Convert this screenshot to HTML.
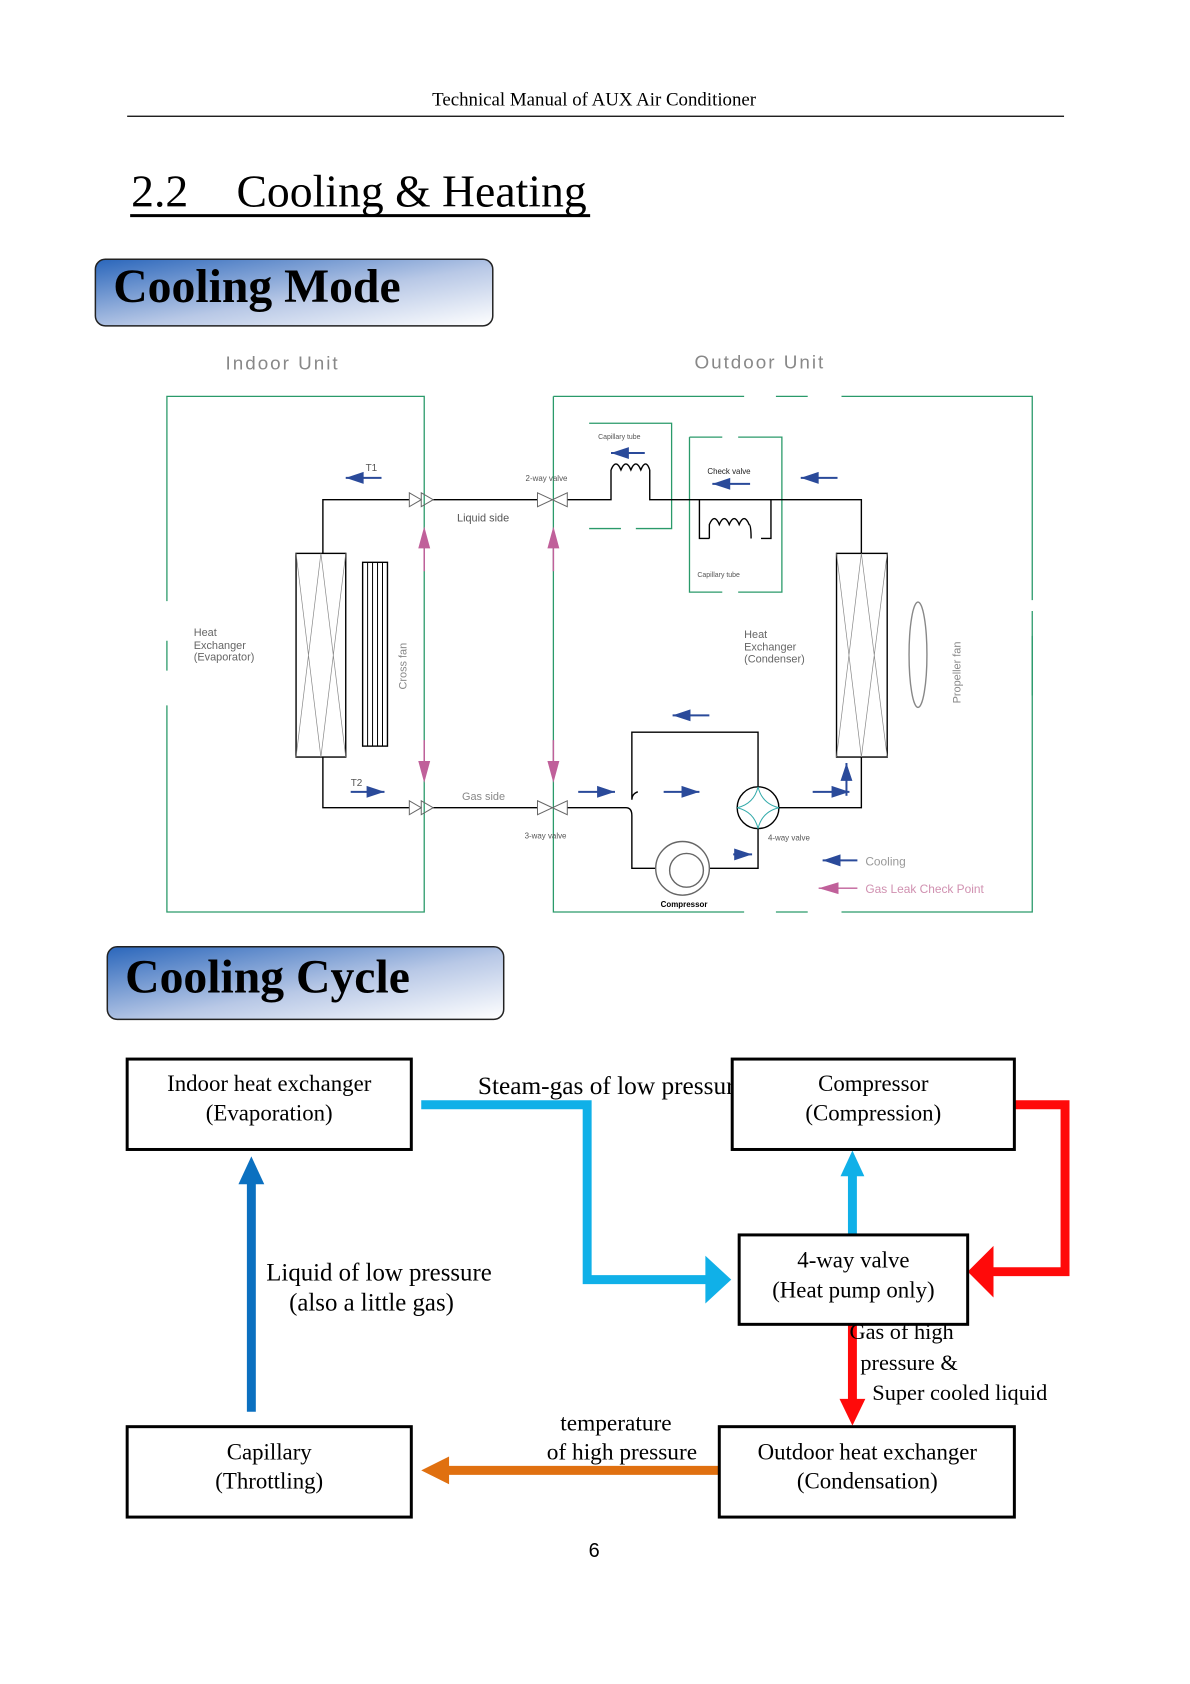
<!DOCTYPE html>
<html><head><meta charset="utf-8"><style>
html,body{margin:0;padding:0;background:#fff}
svg{display:block}
</style></head><body>
<svg width="1190" height="1684" viewBox="0 0 1190 1684" xmlns="http://www.w3.org/2000/svg" font-family="Liberation Serif, serif">
<defs>
<linearGradient id="g1" x1="0" y1="0" x2="1" y2="1">
<stop offset="0" stop-color="#2a66bb"/><stop offset="0.55" stop-color="#b8c8e6"/><stop offset="1" stop-color="#ffffff"/>
</linearGradient>
</defs>
<g transform="scale(0.9935)">
<!-- header -->
<text x="598" y="106" font-size="19" text-anchor="middle">Technical Manual of AUX Air Conditioner</text>
<line x1="128" y1="117" x2="1071" y2="117" stroke="#000" stroke-width="1.2"/>
<text y="208" font-size="46"><tspan x="132">2.2</tspan><tspan x="238">Cooling &amp; Heating</tspan></text>
<line x1="131" y1="217" x2="594" y2="217" stroke="#000" stroke-width="3"/>

<!-- Cooling Mode -->
<rect x="96" y="261" width="400" height="67" rx="10" fill="url(#g1)" stroke="#222" stroke-width="1.5"/>
<text x="114" y="304" font-size="48" font-weight="bold">Cooling Mode</text>

<g font-family="Liberation Sans, sans-serif" fill="#888">
<text x="227" y="372" font-size="19" letter-spacing="2">Indoor  Unit</text>
<text x="699" y="371" font-size="19" letter-spacing="2">Outdoor  Unit</text>
</g>

<!-- unit boxes -->
<g stroke="#2a9a6a" stroke-width="1.3" fill="none">
<path d="M168 605 V399 H427 V918 H168 V710 M168 675 V645"/>
<path d="M557 399 H749 M781 399 H813 M847 399 H1039 V604 M1039 640 V918 H847 M813 918 H781 M749 918 H557 V399"/>
<path d="M1039 615 V700"/>
<path d="M593 426 H676 V532 H640 M625 532 H593 Z"/>
<path d="M694 440 V596 H727 M743 596 H787 V440 H743 M727 440 H694"/>
</g>

<!-- piping -->
<g stroke="#000" stroke-width="1.4" fill="none">
<path d="M325 557 V503 H412 M436 503 H541 M571 503 H615 V473"/>
<path d="M654 473 V503 H867 V557"/>
<path d="M704 503 V542 H714 M766 542 H776 V503"/>
<path d="M615 473 q5-12 10 0 q5-12 10 0 q5-12 10 0 q5-12 9 0"/>
<path d="M714 542 V528 q5-12 10 0 q5-12 10 0 q5-12 10 0 q5-12 10 0 q2 0 2 14"/>
<rect x="298" y="557" width="50" height="205"/>
<path d="M298 557 L323 762 L348 557 M298 762 L323 557 L348 762" stroke="#888" stroke-width="0.7"/>
<rect x="365" y="566" width="25" height="185"/>
<path d="M370 566 V751 M375 566 V751 M380 566 V751 M385 566 V751" stroke-width="1"/>
<rect x="842" y="557" width="51" height="205"/>
<path d="M842 557 L867 762 L893 557 M842 762 L867 557 L893 762" stroke="#888" stroke-width="0.7"/>
<path d="M325 762 V813 H412 M436 813 H541 M571 813 H630 q6 0 6 8 M636 805 q0-6 6-8 M636 805 V737 H763 V792 M763 834 V874 H714 M660 874 H636 V821"/>
<path d="M784 813 H867 V762"/>
<circle cx="763" cy="813" r="21"/>
<path d="M763 792 Q767 809 784 813 Q767 817 763 834 Q759 817 742 813 Q759 809 763 792 Z" stroke="#3aa" stroke-width="1"/>
<circle cx="687" cy="874" r="27" stroke="#666"/>
<circle cx="691" cy="876" r="17" stroke="#666"/>
<ellipse cx="924" cy="659" rx="9" ry="53" stroke="#888"/>
<path d="M412 496 L424 503 L412 510 Z M424 496 L436 503 L424 510 Z M412 806 L424 813 L412 820 Z M424 806 L436 813 L424 820 Z" stroke="#666" stroke-width="1"/>
<path d="M541 496 L571 510 L571 496 L541 510 Z M541 806 L571 820 L571 806 L541 820 Z" stroke="#666" stroke-width="1"/>
</g>

<!-- blue arrows -->
<g fill="#2a4a9a" stroke="#2a4a9a" stroke-width="2">
<path d="M348 481 H384" /><path d="M348 481 l18 -6 v12 Z" stroke="none"/>
<path d="M615 456 H649"/><path d="M615 456 l18 -6 v12 Z" stroke="none"/>
<path d="M717 487 H755"/><path d="M717 487 l18 -6 v12 Z" stroke="none"/>
<path d="M806 481 H843"/><path d="M806 481 l18 -6 v12 Z" stroke="none"/>
<path d="M677 720 H714"/><path d="M677 720 l18 -6 v12 Z" stroke="none"/>
<path d="M353 797 H387"/><path d="M387 797 l-18 -6 v12 Z" stroke="none"/>
<path d="M582 797 H619"/><path d="M619 797 l-18 -6 v12 Z" stroke="none"/>
<path d="M668 797 H704"/><path d="M704 797 l-18 -6 v12 Z" stroke="none"/>
<path d="M818 797 H855"/><path d="M855 797 l-18 -6 v12 Z" stroke="none"/>
<path d="M852 801 V768"/><path d="M852 768 l-6 18 h12 Z" stroke="none"/>
<path d="M738 860 H757"/><path d="M757 860 l-18 -6 v12 Z" stroke="none"/>
<path d="M828 866 H863"/><path d="M828 866 l18 -6 v12 Z" stroke="none"/>
</g>
<!-- pink arrows -->
<g fill="#c0609a" stroke="#c0609a" stroke-width="1.5">
<path d="M427 530 l-6 22 h12 Z M557 530 l-6 22 h12 Z" stroke="none"/>
<path d="M427 788 l-6 -22 h12 Z M557 788 l-6 -22 h12 Z" stroke="none"/>
<path d="M427 552 V575 M557 552 V575 M427 745 V766 M557 745 V766"/>
<path d="M824 894 H863"/><path d="M824 894 l20 -6 v12 Z" stroke="none"/>
</g>

<!-- small labels -->
<g font-family="Liberation Sans, sans-serif" fill="#555">
<text x="368" y="474" font-size="10">T1</text>
<text x="353" y="791" font-size="10">T2</text>
<text x="529" y="484" font-size="8">2-way valve</text>
<text x="528" y="844" font-size="8">3-way valve</text>
<text x="773" y="846" font-size="8">4-way valve</text>
<text x="602" y="442" font-size="7">Capillary tube</text>
<text x="712" y="477" font-size="8" fill="#222">Check valve</text>
<text x="702" y="581" font-size="7">Capillary tube</text>
<text x="460" y="525" font-size="11">Liquid side</text>
<text x="465" y="805" font-size="11" fill="#888">Gas side</text>
<text font-size="11" fill="#666"><tspan x="195" y="640">Heat</tspan><tspan x="195" y="653">Exchanger</tspan><tspan x="195" y="665">(Evaporator)</tspan></text>
<text font-size="11" fill="#666"><tspan x="749" y="642">Heat</tspan><tspan x="749" y="655">Exchanger</tspan><tspan x="749" y="667">(Condenser)</tspan></text>
<text font-size="11" fill="#888" transform="translate(409,694) rotate(-90)">Cross fan</text>
<text font-size="11" fill="#888" transform="translate(967,708) rotate(-90)">Propeller fan</text>
<text x="665" y="913" font-size="8" fill="#000" font-weight="bold">Compressor</text>
<text x="871" y="871" font-size="12" fill="#999">Cooling</text>
<text x="871" y="899" font-size="12" fill="#d090b0">Gas Leak Check Point</text>
</g>

<!-- Cooling Cycle -->
<rect x="108" y="953" width="399" height="73" rx="10" fill="url(#g1)" stroke="#222" stroke-width="1.5"/>
<text x="126" y="999" font-size="48" font-weight="bold">Cooling Cycle</text>

<g fill="none" stroke-width="9">
<path d="M424 1112 H591 V1288 H712" stroke="#10b0e8"/>
<path d="M858 1243 V1180" stroke="#10b0e8"/>
<path d="M253 1421 V1190" stroke="#0b70c0"/>
<path d="M1021 1112 H1072 V1280 H998" stroke="#ff0a0a"/>
<path d="M858 1333 V1410" stroke="#ff0a0a"/>
<path d="M724 1480 H450" stroke="#e07010"/>
</g>
<path d="M736 1288 L710 1264 V1312 Z" fill="#10b0e8"/>
<path d="M858 1158 L846 1184 H870 Z" fill="#10b0e8"/>
<path d="M253 1164 L240 1192 H266 Z" fill="#0b70c0"/>
<path d="M974 1280 L1000 1254 V1306 Z" fill="#ff0a0a"/>
<path d="M858 1435 L845 1408 H871 Z" fill="#ff0a0a"/>
<path d="M424 1480 L452 1466 V1494 Z" fill="#e07010"/>

<text x="481" y="1101" font-size="25.5">Steam-gas of low pressure</text>
<g font-size="25">
<text x="268" y="1289">Liquid of low pressure</text>
<text x="291" y="1319">(also a little gas)</text>
</g>
<g font-size="22.5">
<text x="855" y="1348">Gas of high</text>
<text x="866" y="1379">pressure &amp;</text>
<text x="878" y="1409">Super cooled liquid</text>
</g>
<g font-size="23.5" text-anchor="middle">
<text x="620" y="1440">temperature</text>
<text x="626" y="1469">of high pressure</text>
</g>

<g fill="#fff" stroke="#000" stroke-width="3">
<rect x="128" y="1066" width="286" height="91"/>
<rect x="737" y="1066" width="284" height="91"/>
<rect x="744" y="1243" width="230" height="90"/>
<rect x="128" y="1436" width="286" height="91"/>
<rect x="724" y="1436" width="297" height="91"/>
</g>
<g font-size="23" text-anchor="middle">
<text x="271" y="1098">Indoor heat exchanger</text>
<text x="271" y="1128">(Evaporation)</text>
<text x="879" y="1098">Compressor</text>
<text x="879" y="1128">(Compression)</text>
<text x="859" y="1276">4-way valve</text>
<text x="859" y="1306">(Heat pump only)</text>
<text x="271" y="1469">Capillary</text>
<text x="271" y="1498">(Throttling)</text>
<text x="873" y="1469">Outdoor heat exchanger</text>
<text x="873" y="1498">(Condensation)</text>
</g>
<text x="598" y="1567" font-size="20" text-anchor="middle" font-family="Liberation Sans, sans-serif">6</text>
</g>
</svg>
</body></html>
